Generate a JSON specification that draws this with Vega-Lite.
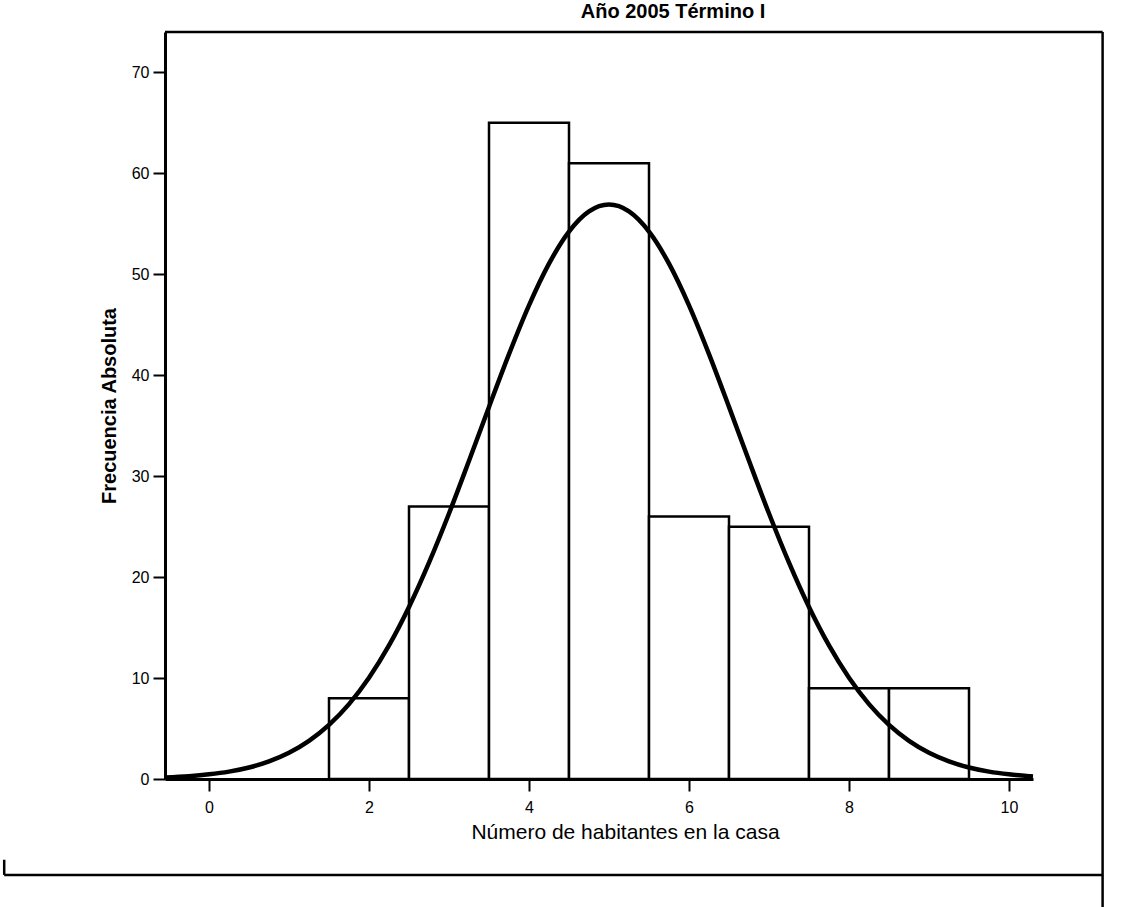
{
  "$schema": "https://vega.github.io/schema/vega-lite/v6.json",
  "width": 868,
  "height": 747,
  "autosize": {"type": "none"},
  "padding": {"left": 165, "top": 32, "right": 98, "bottom": 128},
  "background": "white",
  "config": {"view": {"stroke": null}, "font": "Liberation Sans"},
  "datasets": {
    "bins": [
      {"desde": 1.5, "hasta": 2.5, "frecuencia": 8},
      {"desde": 2.5, "hasta": 3.5, "frecuencia": 27},
      {"desde": 3.5, "hasta": 4.5, "frecuencia": 65},
      {"desde": 4.5, "hasta": 5.5, "frecuencia": 61},
      {"desde": 5.5, "hasta": 6.5, "frecuencia": 26},
      {"desde": 6.5, "hasta": 7.5, "frecuencia": 25},
      {"desde": 7.5, "hasta": 8.5, "frecuencia": 9},
      {"desde": 8.5, "hasta": 9.5, "frecuencia": 9}
    ],
    "curva": [
      {"x": -0.55, "y": 0.15}, {"x": -0.25, "y": 0.28}, {"x": 0, "y": 0.46}, {"x": 0.25, "y": 0.73},
      {"x": 0.5, "y": 1.14}, {"x": 0.75, "y": 1.75}, {"x": 1, "y": 2.6}, {"x": 1.25, "y": 3.78},
      {"x": 1.5, "y": 5.36}, {"x": 1.75, "y": 7.42}, {"x": 2, "y": 10.03}, {"x": 2.25, "y": 13.23},
      {"x": 2.5, "y": 17.04}, {"x": 2.75, "y": 21.43}, {"x": 3, "y": 26.3}, {"x": 3.25, "y": 31.52},
      {"x": 3.5, "y": 36.86}, {"x": 3.75, "y": 42.09}, {"x": 4, "y": 46.92}, {"x": 4.25, "y": 51.05},
      {"x": 4.5, "y": 54.22}, {"x": 4.75, "y": 56.22}, {"x": 5, "y": 56.9}, {"x": 5.25, "y": 56.22},
      {"x": 5.5, "y": 54.22}, {"x": 5.75, "y": 51.05}, {"x": 6, "y": 46.92}, {"x": 6.25, "y": 42.09},
      {"x": 6.5, "y": 36.86}, {"x": 6.75, "y": 31.52}, {"x": 7, "y": 26.3}, {"x": 7.25, "y": 21.43},
      {"x": 7.5, "y": 17.04}, {"x": 7.75, "y": 13.23}, {"x": 8, "y": 10.03}, {"x": 8.25, "y": 7.42},
      {"x": 8.5, "y": 5.36}, {"x": 8.75, "y": 3.78}, {"x": 9, "y": 2.6}, {"x": 9.25, "y": 1.75},
      {"x": 9.5, "y": 1.14}, {"x": 9.75, "y": 0.73}, {"x": 10, "y": 0.46}, {"x": 10.25, "y": 0.28},
      {"x": 10.3, "y": 0.25}
    ],
    "titulo": [{"texto": "Año 2005 Término I"}]
  },
  "layer": [
    {
      "data": {"name": "bins"},
      "mark": {"type": "bar", "fill": "white", "stroke": "black", "strokeWidth": 2.5},
      "encoding": {
        "x": {
          "field": "desde", "type": "quantitative",
          "scale": {"domain": [-0.55, 10.3], "nice": false, "zero": false},
          "axis": {
            "title": "Número de habitantes en la casa",
            "values": [0, 2, 4, 6, 8, 10],
            "format": "d",
            "grid": false,
            "domainColor": "black", "domainWidth": 3,
            "tickColor": "black", "tickWidth": 2, "tickSize": 12,
            "labelColor": "black", "labelFontSize": 16, "labelPadding": 8,
            "labelFont": "Liberation Sans",
            "titleColor": "black", "titleFontSize": 21, "titleFontWeight": "normal",
            "titlePadding": 6, "titleFont": "Liberation Sans", "titleX": 460
          }
        },
        "x2": {"field": "hasta"},
        "y": {
          "field": "frecuencia", "type": "quantitative",
          "scale": {"domain": [0, 74], "nice": false},
          "axis": {
            "title": "Frecuencia Absoluta",
            "values": [0, 10, 20, 30, 40, 50, 60, 70],
            "format": "d",
            "grid": false,
            "domainColor": "black", "domainWidth": 3,
            "tickColor": "black", "tickWidth": 2, "tickSize": 12,
            "labelColor": "black", "labelFontSize": 16, "labelPadding": 4,
            "labelFont": "Liberation Sans",
            "titleColor": "black", "titleFontSize": 20, "titleFontWeight": "bold",
            "titlePadding": 12, "titleFont": "Liberation Sans"
          }
        },
        "y2": {"datum": 0}
      }
    },
    {
      "data": {"name": "curva"},
      "mark": {"type": "line", "color": "black", "strokeWidth": 4.5, "interpolate": "monotone"},
      "encoding": {
        "x": {"field": "x", "type": "quantitative", "scale": {"domain": [-0.55, 10.3], "nice": false, "zero": false}},
        "y": {"field": "y", "type": "quantitative", "scale": {"domain": [0, 74], "nice": false}}
      }
    },
    {
      "data": {"name": "titulo"},
      "mark": {"type": "text", "color": "black", "fontSize": 20, "fontWeight": "bold", "font": "Liberation Sans", "align": "center", "baseline": "alphabetic"},
      "encoding": {
        "x": {"datum": 5.8, "type": "quantitative", "scale": {"domain": [-0.55, 10.3], "nice": false, "zero": false}},
        "y": {"datum": 75.4, "type": "quantitative", "scale": {"domain": [0, 74], "nice": false}},
        "text": {"field": "texto"}
      }
    },
    {
      "data": {"values": [{}]},
      "mark": {"type": "rule", "color": "black", "strokeWidth": 2.5},
      "encoding": {
        "x": {"datum": -0.55, "type": "quantitative", "scale": {"domain": [-0.55, 10.3], "nice": false, "zero": false}},
        "x2": {"datum": 11.17},
        "y": {"datum": 74, "type": "quantitative", "scale": {"domain": [0, 74], "nice": false}}
      }
    },
    {
      "data": {"values": [{}]},
      "mark": {"type": "rule", "color": "black", "strokeWidth": 2.5},
      "encoding": {
        "x": {"datum": 11.17, "type": "quantitative", "scale": {"domain": [-0.55, 10.3], "nice": false, "zero": false}},
        "y": {"datum": 74, "type": "quantitative", "scale": {"domain": [0, 74], "nice": false}},
        "y2": {"datum": -13}
      }
    },
    {
      "data": {"values": [{}]},
      "mark": {"type": "rule", "color": "black", "strokeWidth": 2.5},
      "encoding": {
        "x": {"datum": -2.56, "type": "quantitative", "scale": {"domain": [-0.55, 10.3], "nice": false, "zero": false}},
        "x2": {"datum": 11.17},
        "y": {"datum": -9.5, "type": "quantitative", "scale": {"domain": [0, 74], "nice": false}}
      }
    },
    {
      "data": {"values": [{}]},
      "mark": {"type": "rule", "color": "black", "strokeWidth": 2.5},
      "encoding": {
        "x": {"datum": -2.56, "type": "quantitative", "scale": {"domain": [-0.55, 10.3], "nice": false, "zero": false}},
        "y": {"datum": -8.0, "type": "quantitative", "scale": {"domain": [0, 74], "nice": false}},
        "y2": {"datum": -9.5}
      }
    }
  ]
}
